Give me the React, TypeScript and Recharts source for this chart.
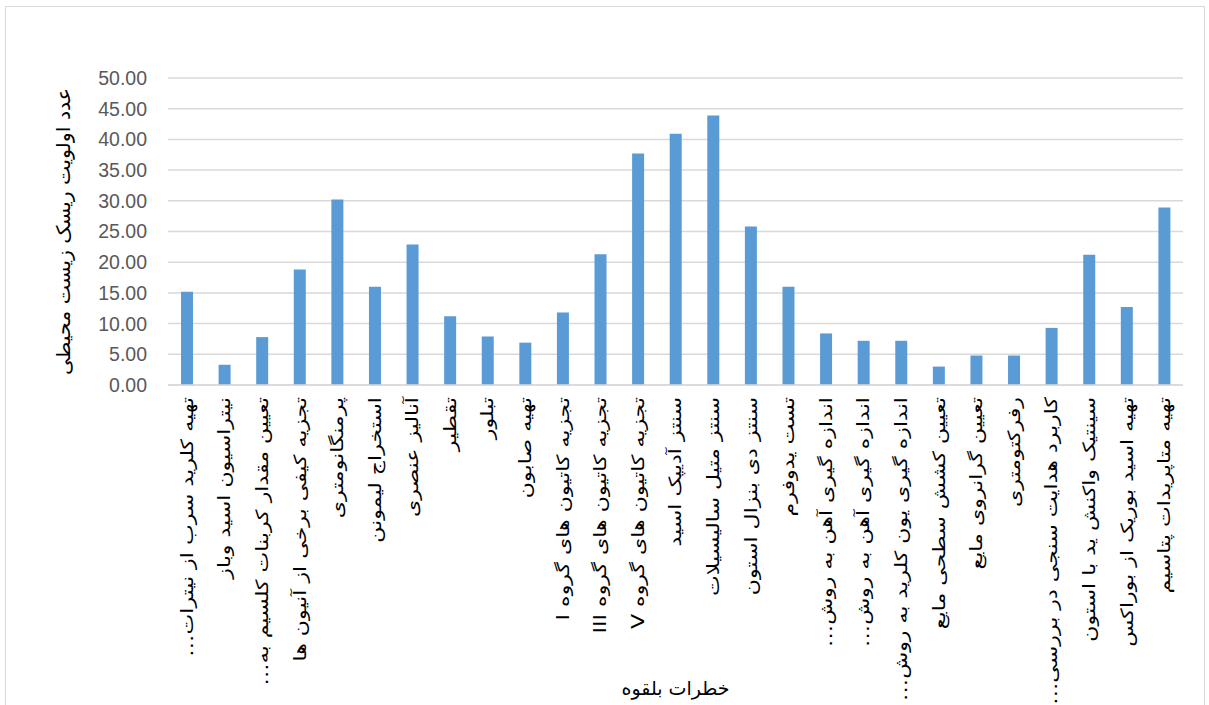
import React from "react";
import { Bar, BarChart, CartesianGrid, XAxis, YAxis } from "recharts";

const categories = [
  "تهیه کلرید سرب از نیترات…",
  "نیتراسیون اسید وباز",
  "تعیین مقدار کربنات کلسیم به…",
  "تجزیه کیفی برخی از آنیون ها",
  "پرمنگانومتری",
  "استخراج لیمونن",
  "آنالیز عنصری",
  "تقطیر",
  "تبلور",
  "تهیه صابون",
  "تجزیه کاتیون های گروه I",
  "تجزیه کاتیون های گروه III",
  "تجزیه کاتیون های گروه V",
  "سنتز آدیپک اسید",
  "سنتز متیل سالیسیلات",
  "سنتز دی بنزال استون",
  "تست یدوفرم",
  "اندازه گیری آهن به روش…",
  "اندازه گیری آهن به روش…",
  "اندازه گیری یون کلرید به روش…",
  "تعیین کشش سطحی مایع",
  "تعیین گرانروی مایع",
  "رفرکتومتری",
  "کاربرد هدایت سنجی در بررسی…",
  "سینتیک واکنش ید با استون",
  "تهیه اسید بوریک از بوراکس",
  "تهیه متاپریدات پتاسیم",
];

const riskValues = [
  15.2, 3.3, 7.8, 18.8, 30.2, 16.0, 22.9, 11.2, 7.9, 6.9, 11.8, 21.3, 37.7,
  40.9, 43.9, 25.8, 16.0, 8.4, 7.2, 7.2, 3.0, 4.8, 4.8, 9.3, 21.2, 12.7, 28.9,
];

const yTicks = [0, 5, 10, 15, 20, 25, 30, 35, 40, 45, 50];

const yTitle = "عدد اولویت ریسک زیست محیطی";
const xTitle = "خطرات بلقوه";

const data = categories.map((name, i) => ({ name, value: riskValues[i] }));

const rtl = (s: string) => "\u202B" + s + "\u202C";

function CategoryTick({ x, y, payload }: any) {
  const ty = y + 4;
  return (
    <g transform={`translate(${x}, ${ty}) rotate(-90) scale(1.3, 1)`}>
      <text
        x={0}
        y={0}
        dy="0.35em"
        textAnchor="end"
        fontSize={17}
        fill="#000"
        fontFamily="'DejaVu Sans', sans-serif"
      >
        {rtl(payload.value)}
      </text>
    </g>
  );
}

function YTitle({ viewBox }: any) {
  const cx = 63;
  const cy = viewBox.y + viewBox.height / 2;
  return (
    <g transform={`translate(${cx}, ${cy}) rotate(-90) scale(1.08, 1)`}>
      <text
        x={0}
        y={0}
        dy="0.35em"
        textAnchor="middle"
        fontSize={19}
        fill="#000"
        fontFamily="'DejaVu Sans', sans-serif"
      >
        {rtl(yTitle)}
      </text>
    </g>
  );
}

export default function App() {
  return (
    <div style={{ position: "absolute", left: 0, top: 0, width: 1209, height: 705, background: "#fff", overflow: "hidden" }}>
      <div
        style={{
          position: "absolute",
          left: 5,
          top: 6,
          width: 1200,
          height: 710,
          border: "1.5px solid #d9d9d9",
          boxSizing: "border-box",
        }}
      />
      <BarChart
        width={1209}
        height={705}
        data={data}
        margin={{ top: 78, right: 26, bottom: 0, left: 68 }}
        style={{ position: "absolute", left: 0, top: 0 }}
      >
        <CartesianGrid vertical={false} stroke="#d9d9d9" strokeWidth={1.5} />
        <XAxis
          dataKey="name"
          interval={0}
          height={320}
          tickLine={false}
          axisLine={{ stroke: "#d9d9d9", strokeWidth: 1.5 }}
          tick={<CategoryTick />}
          label={{
            value: rtl(xTitle),
            position: "insideBottom",
            offset: 10,
            fontSize: 19,
            fill: "#000",
            fontFamily: "'DejaVu Sans', sans-serif",
          }}
        />
        <YAxis
          width={100}
          domain={[0, 50]}
          ticks={yTicks}
          tickFormatter={(v: number) => v.toFixed(2)}
          tickLine={false}
          axisLine={false}
          tickMargin={15}
          tick={{ fontSize: 19.5, fill: "#595959", fontFamily: "'Liberation Sans', sans-serif" }}
          label={<YTitle />}
        />
        <Bar dataKey="value" fill="#5b9bd5" barSize={12} isAnimationActive={false} />
      </BarChart>
    </div>
  );
}
